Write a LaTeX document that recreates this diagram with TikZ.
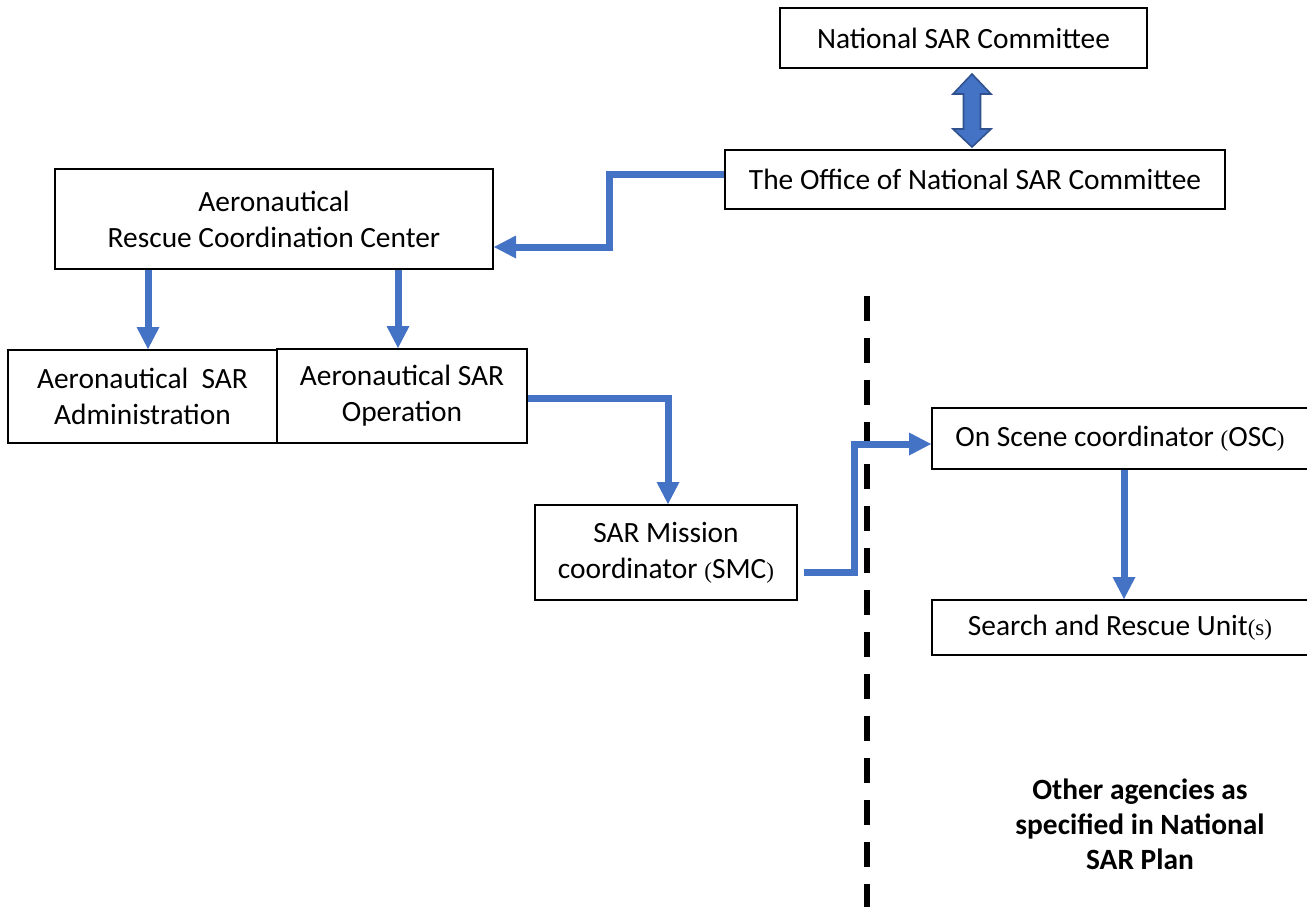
\documentclass[tikz,border=0pt]{standalone}
\usepackage{fontspec}
\setmainfont{Carlito}
\newfontfamily\parfont{Liberation Serif}
\usetikzlibrary{arrows.meta,calc}

\definecolor{sarblue}{HTML}{4472C4}
\definecolor{sarblueedge}{HTML}{2F528F}
\newcommand{\pn}[1]{{\parfont\fontsize{11.5}{12}\selectfont #1}}

\begin{document}
\begin{tikzpicture}[
        x=0.5pt, y=-0.5pt,
        box/.style={rectangle, draw=black, line width=1pt, inner sep=0pt, align=center,
                    font=\fontsize{14.7}{18}\selectfont},
        flow/.style={draw=sarblue, line width=3.5pt,
                     -{Triangle[length=11pt, width=11.5pt, line width=0pt]}},
        dblarrow/.style={fill=sarblue, draw=sarblueedge, line width=0.8pt},
        divider/.style={draw=black, line width=3pt, dash pattern=on 12.5pt off 8.5pt},
        note/.style={align=center, font=\bfseries\fontsize{14.7}{17.5}\selectfont}
    ]
        \useasboundingbox (0,0) rectangle (1307,907);

        % Committee
        \node[box, minimum width=183.5pt, minimum height=30pt] (nsc) at (963.5,38) {National SAR Committee};
        \node[box, minimum width=250pt, minimum height=29.5pt] (office) at (975,179.5) {The Office of National SAR Committee};

        % Rescue coordination center
        \node[box, minimum width=219pt, minimum height=50pt] (arcc) at (274,219) {Aeronautical\\Rescue Coordination Center};
        \node[box, minimum width=134.5pt, minimum height=46.5pt] (adm) at (142.5,396.5) {Aeronautical\ \ SAR\\Administration};
        \node[box, minimum width=125pt, minimum height=47pt] (ops) at (402,396) {Aeronautical SAR\\Operation};
        \node[box, minimum width=131pt, minimum height=47.5pt] (smc) at (666,552.5) {SAR Mission\\coordinator \pn{(}SMC\pn{)}};

        % Other agencies
        \node[box, minimum width=188pt, minimum height=30.5pt] (osc) at (1120,438.5) {On Scene coordinator \pn{(}OSC\pn{)}};
        \node[box, minimum width=188pt, minimum height=27.5pt] (sru) at (1120,627.5) {Search and Rescue Unit\pn{(s)}};
        \node[note] (agencies) at (1140,824) {Other agencies as\\specified in National\\SAR Plan};

        % Divider
        \draw[divider] (867,296) -- (867,907);

        % Double arrow
        \draw[dblarrow] ($(nsc.south)+(8.5,5)$) -- ++(19,20) -- ++(-10.5,0) -- ++(0,35) -- ++(10.5,0)
            -- ++(-19,18) -- ++(-19,-18) -- ++(10.5,0) -- ++(0,-35) -- ++(-10.5,0) -- cycle;

        % Arrows
        \draw[flow] ([yshift=2.75pt]office.west) -- ++(-115,0) |- ([yshift=-14pt]arcc.east);
        \draw[flow] ([xshift=-63pt]arcc.south) -- ([xshift=-63pt]arcc.south |- adm.north);
        \draw[flow] ([xshift=62pt]arcc.south) -- ([xshift=62pt]arcc.south |- ops.north);
        \draw[flow] ([yshift=-1pt]ops.east) -| ([xshift=1pt]smc.north);
        \draw[flow] ([xshift=3pt,yshift=-9.75pt]smc.east) -- ++(50,0) |- ([yshift=-2.75pt]osc.west);
        \draw[flow] ([xshift=2pt]osc.south) -- ([xshift=2pt]sru.north);
    \end{tikzpicture}
\end{document}
